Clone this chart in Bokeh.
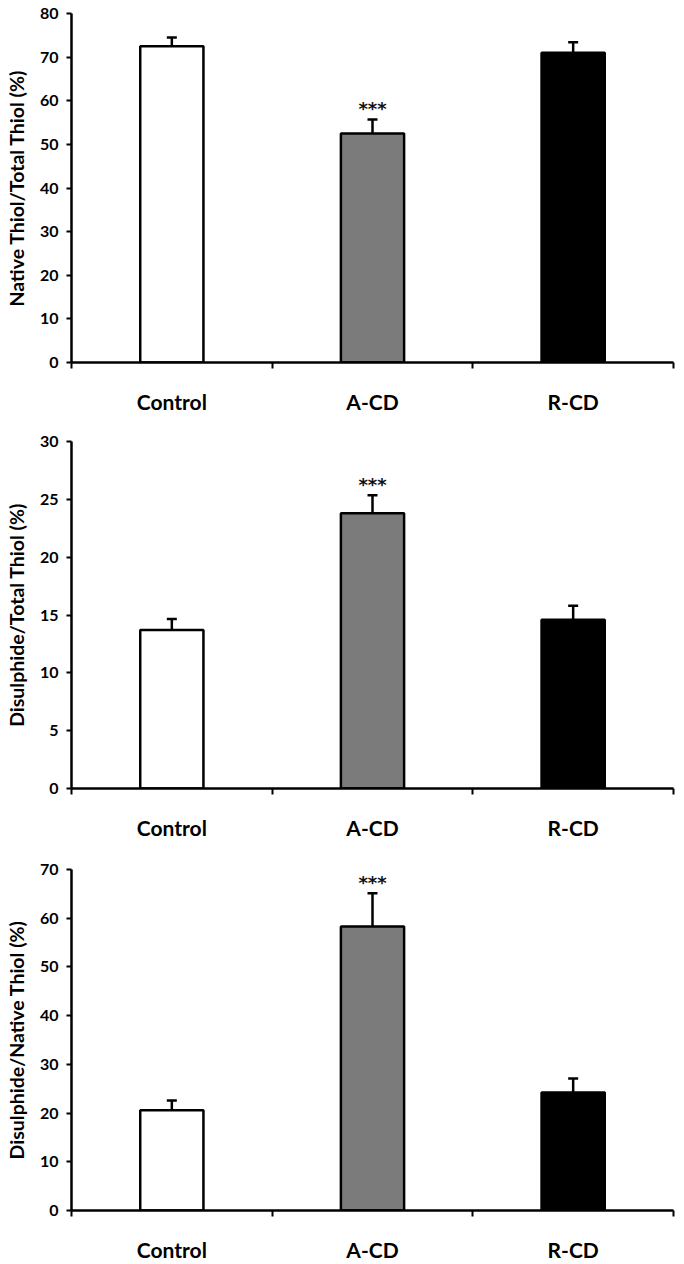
from bokeh.plotting import figure
from bokeh.layouts import column
from bokeh.models import ColumnDataSource, FixedTicker, Whisker, TeeHead, Range1d
from bokeh.core.properties import value
from bokeh.embed import file_html
from bokeh.resources import INLINE

# Groups and bar fills
groups = ["Control", "A-CD", "R-CD"]
bar_colors = ["#ffffff", "#7b7b7b", "#000000"]
significance = ["", "***", ""]

# Native thiol / total thiol (%)
native_total_mean = [72.5, 52.5, 71.0]
native_total_err = [2.0, 3.2, 2.4]

# Disulphide / total thiol (%)
disulphide_total_mean = [13.7, 23.8, 14.6]
disulphide_total_err = [0.95, 1.55, 1.2]

# Disulphide / native thiol (%)
disulphide_native_mean = [20.6, 58.3, 24.2]
disulphide_native_err = [2.0, 6.8, 2.9]

FONT = "Lato"


def panel(mean, err, ymax, ystep, ylabel, height, top, bottom):
    x = [i + 0.5 for i in range(len(groups))]
    upper = [m + e for m, e in zip(mean, err)]
    src = ColumnDataSource(dict(x=x, top=mean, upper=upper,
                                color=bar_colors, sig=significance))

    p = figure(width=684, height=height,
               x_range=Range1d(0, len(groups)), y_range=Range1d(0, ymax),
               output_backend="svg", toolbar_location=None,
               min_border_left=71, min_border_right=11,
               min_border_top=top, min_border_bottom=bottom)
    p.outline_line_color = None
    p.xgrid.visible = False
    p.ygrid.visible = False

    p.vbar(x="x", top="top", width=0.315, bottom=0, source=src,
           fill_color="color", line_color="black", line_width=2.5)

    p.add_layout(Whisker(source=src, base="x", lower="top", upper="upper",
                         line_width=2.5, line_color="black",
                         upper_head=TeeHead(size=10, line_width=2.5, line_color="black"),
                         lower_head=None))

    # significance stars above the error bar
    p.text(x="x", y="upper", text="sig", source=src,
           text_align="center", text_baseline="middle", y_offset=-11,
           text_font=value("DejaVu Sans"), text_font_style="bold",
           text_font_size="18px", text_color="#111111")

    # x axis: group names centred, tick marks between groups
    xa = p.xaxis[0]
    xa.ticker = FixedTicker(ticks=x, minor_ticks=list(range(len(groups) + 1)))
    xa.major_label_overrides = {xi: g for xi, g in zip(x, groups)}
    xa.major_tick_line_color = None
    xa.major_tick_out = 0
    xa.major_tick_in = 0
    xa.minor_tick_out = 6
    xa.minor_tick_in = 0
    xa.minor_tick_line_width = 2
    xa.minor_tick_line_color = "black"
    xa.axis_line_width = 2.5
    xa.axis_line_color = "black"
    xa.major_label_standoff = 20
    xa.major_label_text_font = FONT
    xa.major_label_text_font_style = "bold"
    xa.major_label_text_font_size = "21px"
    xa.major_label_text_color = "black"

    # y axis
    ya = p.yaxis[0]
    ya.ticker = FixedTicker(ticks=list(range(0, ymax + 1, ystep)))
    ya.major_tick_out = 5
    ya.major_tick_in = 0
    ya.major_tick_line_width = 2
    ya.major_tick_line_color = "black"
    ya.minor_tick_line_color = None
    ya.axis_line_width = 2.5
    ya.axis_line_color = "black"
    ya.major_label_standoff = 8
    ya.major_label_text_font = FONT
    ya.major_label_text_font_style = "bold"
    ya.major_label_text_font_size = "16px"
    ya.major_label_text_color = "black"
    ya.axis_label = ylabel
    ya.axis_label_standoff = 9
    ya.axis_label_text_font = FONT
    ya.axis_label_text_font_style = "bold"
    ya.axis_label_text_font_size = "19.5px"
    ya.axis_label_text_color = "black"
    return p


p1 = panel(native_total_mean, native_total_err, 80, 10,
           "Native Thiol/Total Thiol (%)", 421, 13, 59)
p2 = panel(disulphide_total_mean, disulphide_total_err, 30, 5,
           "Disulphide/Total Thiol (%)", 421, 20, 49)
p3 = panel(disulphide_native_mean, disulphide_native_err, 70, 10,
           "Disulphide/Native Thiol (%)", 422, 27, 43)

layout = column(p1, p2, p3, spacing=0)
open("out.html", "w").write(file_html(layout, INLINE))
